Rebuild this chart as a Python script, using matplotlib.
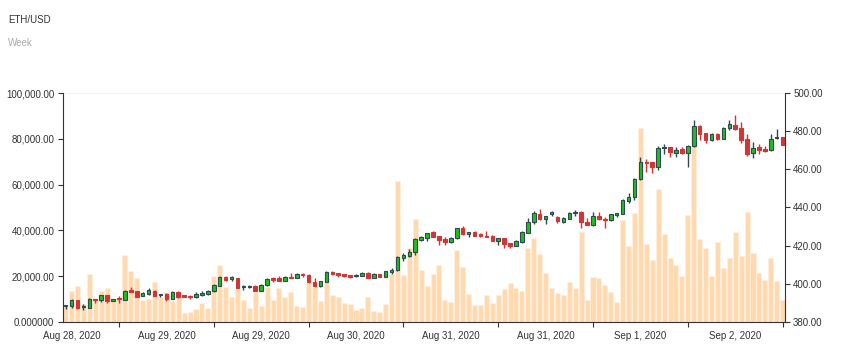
import matplotlib
matplotlib.use("Agg")
import matplotlib.pyplot as plt
import numpy as np

plt.rcParams['font.family'] = ['Liberation Sans', 'DejaVu Sans']

# hourly-ish ETH/USD candles
opens = [388.3, 388.3, 391.3, 387.6, 387.5, 392.2, 391.3, 393.9, 390.9, 392.7,
         391.5, 396.7, 396.0, 393.7, 394.8, 396.5, 394.4, 394.8, 392.2, 395.6,
         394.1, 393.7, 393.0, 394.4, 394.6, 396.0, 399.1, 403.6, 402.4, 403.3,
         398.2, 398.1, 398.9, 396.2, 399.3, 402.8, 402.8, 401.5, 403.8, 402.9,
         405.4, 404.8, 401.0, 398.6, 401.0, 406.4, 405.7, 405.2, 404.5, 404.0,
         404.1, 405.5, 403.1, 405.2, 403.6, 406.4, 407.1, 413.7, 414.4, 416.6,
         423.1, 423.8, 426.9, 425.3, 423.6, 421.7, 423.8, 429.0, 426.0, 427.4,
         426.0, 425.3, 425.0, 422.7, 424.1, 421.2, 419.9, 421.7, 426.5, 432.5,
         436.8, 434.0, 436.8, 435.2, 432.5, 434.0, 437.1, 437.7, 432.6, 430.9,
         435.6, 434.2, 433.3, 436.1, 436.8, 443.6, 445.5, 454.7, 464.1, 463.7,
         461.1, 471.0, 471.5, 468.7, 470.7, 468.6, 472.2, 482.5, 479.0, 475.3,
         478.3, 475.9, 481.6, 483.3, 481.6, 475.7, 468.4, 471.5, 470.5, 470.1,
         476.2, 476.9]
highs = [388.7, 391.8, 391.6, 389.2, 392.5, 392.2, 394.4, 394.1, 392.3, 393.4,
         397.0, 398.2, 396.5, 395.6, 397.9, 396.8, 394.9, 395.1, 396.3, 396.2,
         394.1, 394.2, 395.5, 396.0, 396.8, 400.0, 404.0, 404.0, 404.1, 403.3,
         399.5, 399.6, 399.3, 400.0, 402.9, 403.5, 404.1, 404.1, 405.5, 405.7,
         405.7, 405.2, 402.8, 401.7, 406.8, 406.6, 405.7, 405.2, 404.8, 405.0,
         406.1, 406.4, 405.5, 405.2, 406.9, 408.1, 414.4, 416.1, 418.0, 424.1,
         425.2, 426.7, 427.9, 425.3, 424.6, 424.3, 429.5, 430.4, 427.4, 427.9,
         426.4, 427.9, 425.7, 424.1, 424.1, 421.2, 422.9, 427.9, 434.7, 438.0,
         439.1, 435.8, 438.4, 435.4, 434.9, 437.7, 438.5, 438.4, 434.5, 437.7,
         437.8, 434.9, 436.8, 437.3, 444.3, 447.6, 455.2, 466.3, 465.4, 463.9,
         472.2, 473.3, 471.7, 471.9, 471.5, 472.6, 485.8, 483.0, 479.3, 479.0,
         479.2, 482.3, 485.6, 488.7, 484.7, 478.5, 474.1, 473.3, 472.4, 478.5,
         481.1, 476.9]
lows = [387.0, 387.5, 386.8, 386.4, 387.1, 389.7, 390.6, 390.1, 390.8, 390.1,
        391.3, 395.6, 392.9, 393.4, 394.4, 393.4, 393.0, 390.8, 391.8, 392.7,
        393.0, 392.3, 392.5, 393.7, 394.4, 395.6, 398.8, 401.5, 401.4, 397.7,
        396.7, 397.7, 396.0, 396.0, 399.1, 401.0, 401.4, 401.4, 402.9, 402.8,
        403.5, 400.2, 398.2, 398.2, 400.8, 404.5, 403.6, 403.5, 402.9, 403.5,
        404.0, 402.8, 402.9, 403.5, 403.5, 405.2, 406.6, 411.8, 413.9, 415.1,
        422.6, 422.7, 424.6, 420.5, 420.6, 421.3, 423.6, 425.7, 424.3, 425.2,
        424.6, 424.3, 422.6, 420.1, 418.6, 418.6, 419.6, 421.5, 426.4, 431.2,
        433.3, 431.2, 435.8, 432.1, 431.8, 433.8, 435.8, 429.5, 430.7, 430.2,
        433.7, 429.5, 433.1, 435.1, 436.4, 442.5, 443.7, 454.5, 458.7, 458.3,
        459.7, 468.0, 466.3, 466.7, 468.2, 461.3, 471.7, 475.2, 474.0, 475.0,
        475.2, 475.7, 480.4, 480.4, 474.0, 467.0, 465.8, 468.2, 469.3, 469.8,
        476.0, 472.6]
closes = [388.7, 391.3, 387.1, 388.2, 392.2, 391.5, 393.9, 390.8, 392.2, 391.8,
          396.5, 395.6, 393.2, 395.3, 396.7, 393.7, 394.9, 392.2, 395.8, 393.2,
          393.2, 393.2, 394.9, 395.1, 396.3, 399.6, 403.6, 402.2, 403.5, 397.7,
          398.8, 399.1, 396.2, 399.6, 402.6, 402.2, 401.5, 403.6, 402.9, 405.4,
          404.7, 400.7, 398.6, 401.4, 406.4, 405.4, 404.7, 404.0, 403.6, 404.5,
          405.7, 402.9, 405.2, 403.6, 406.6, 407.3, 414.0, 414.9, 416.8, 423.6,
          424.3, 426.7, 424.8, 422.9, 421.9, 423.9, 429.2, 425.9, 427.2, 425.3,
          425.2, 424.5, 422.6, 424.1, 421.0, 419.6, 422.2, 427.1, 432.6, 437.0,
          434.0, 435.4, 437.5, 432.8, 434.5, 437.1, 437.7, 432.3, 430.9, 435.6,
          433.8, 433.7, 436.4, 437.1, 443.7, 445.6, 454.9, 463.9, 463.4, 461.1,
          471.2, 471.7, 468.9, 470.3, 468.6, 472.4, 482.5, 478.5, 475.2, 478.3,
          475.7, 481.9, 483.5, 481.1, 475.3, 468.0, 471.4, 470.1, 469.6, 476.0,
          476.7, 472.7]
volumes = [6500, 13500, 15600, 7700, 21000, 9800, 13700, 15000, 9100, 10600,
           29400, 22300, 19000, 9500, 10100, 17500, 10900, 13300, 9100, 12700,
           4050, 4300, 5800, 8400, 6100, 20300, 24900, 15200, 11100, 14500,
           9400, 6200, 13000, 7100, 15200, 9400, 15000, 10900, 12900, 6800,
           6400, 17100, 15300, 9000, 19100, 11600, 11100, 8100, 7800, 5200,
           6100, 10700, 4600, 4300, 7800, 21000, 61500, 20700, 32300, 45000,
           22600, 15600, 21100, 24900, 9400, 8800, 31500, 23900, 12400, 7400,
           7400, 11700, 8100, 11700, 14300, 17200, 14800, 13700, 32400, 36800,
           29800, 21300, 15000, 12600, 12000, 17500, 14900, 39400, 9800, 19700,
           19200, 16200, 13000, 8800, 44400, 33400, 47600, 84800, 34100, 27100,
           58000, 38300, 28100, 24900, 20300, 46600, 85400, 36300, 32400, 20100,
           35000, 23400, 28100, 39500, 28900, 48200, 30100, 21300, 18500, 28100,
           17900, 9500]

date_labels = ["Aug 28, 2020", "Aug 29, 2020", "Aug 29, 2020", "Aug 30, 2020",
               "Aug 31, 2020", "Aug 31, 2020", "Sep 1, 2020", "Sep 2, 2020"]
vol_ticks = [0, 20000, 40000, 60000, 80000, 100000]
price_ticks = [380, 400, 420, 440, 460, 480, 500]

o = np.array(opens)
h = np.array(highs)
l = np.array(lows)
c = np.array(closes)
x = np.arange(len(c))

fig = plt.figure(figsize=(8.47, 3.49), dpi=100)
ax1 = fig.add_axes([0.0747, 0.0774, 0.8521, 0.6561])
ax2 = ax1.twinx()

# volume on the left axis
ax1.bar(x, volumes, width=0.85, color='#ffdab0', edgecolor='#fff0de',
        linewidth=0.5, zorder=1)
ax1.set_ylim(0, 100000)
ax1.set_xlim(-0.4, 121.4)

# candles on the right axis
up = c >= o
green, red, dark = '#1fbf1f', '#d13535', '#2f4a4f'
wick_col = [dark if u else red for u in up]
body_col = [green if u else red for u in up]
edge_col = [dark if u else red for u in up]
ax2.vlines(x, l, h, colors=wick_col, linewidth=1.0, zorder=2)
body_h = np.maximum(np.abs(c - o), 0.2)
ax2.bar(x, body_h, bottom=np.minimum(o, c), width=0.6, color=body_col,
        edgecolor=edge_col, linewidth=0.8, zorder=3)
ax2.set_ylim(380, 500)

txt = '#333333'
for ax in (ax1, ax2):
    ax.spines['top'].set_visible(False)
ax1.spines['right'].set_visible(False)
ax2.spines['left'].set_visible(False)
ax2.spines['bottom'].set_visible(False)
for s in ('left', 'bottom'):
    ax1.spines[s].set_color(txt)
ax2.spines['right'].set_color(txt)
ax1.axhline(100000, color='#fdf1e4', linewidth=1.5, zorder=0)

ax1.set_yticks(vol_ticks)
ax1.set_yticklabels(['0.000000' if v == 0 else f'{v:,.2f}' for v in vol_ticks])
ax2.set_yticks(price_ticks)
ax2.set_yticklabels([f'{v:.2f}' for v in price_ticks])

ax1.set_xticks(np.arange(9, 122, 16))
ax1.set_xticklabels([])
ax1.set_xticks(np.arange(1, 114, 16), minor=True)
ax1.set_xticklabels(date_labels, minor=True)
ax1.tick_params(axis='x', which='major', length=3.6, color=txt)
ax1.tick_params(axis='x', which='minor', length=0, pad=6.5, labelsize=7, labelcolor=txt)
ax1.tick_params(axis='y', length=3.6, pad=2.9, labelsize=7, color=txt, labelcolor=txt)
ax2.tick_params(axis='y', length=3.6, pad=2.2, labelsize=7, color=txt, labelcolor=txt)

fig.text(8 / 847, 1 - 20 / 349, 'ETH/USD', fontsize=7, color=txt, va='center')
fig.text(8 / 847, 1 - 43 / 349, 'Week', fontsize=7, color='#aaaaaa', va='center')

fig.savefig('out.png', dpi=100)
